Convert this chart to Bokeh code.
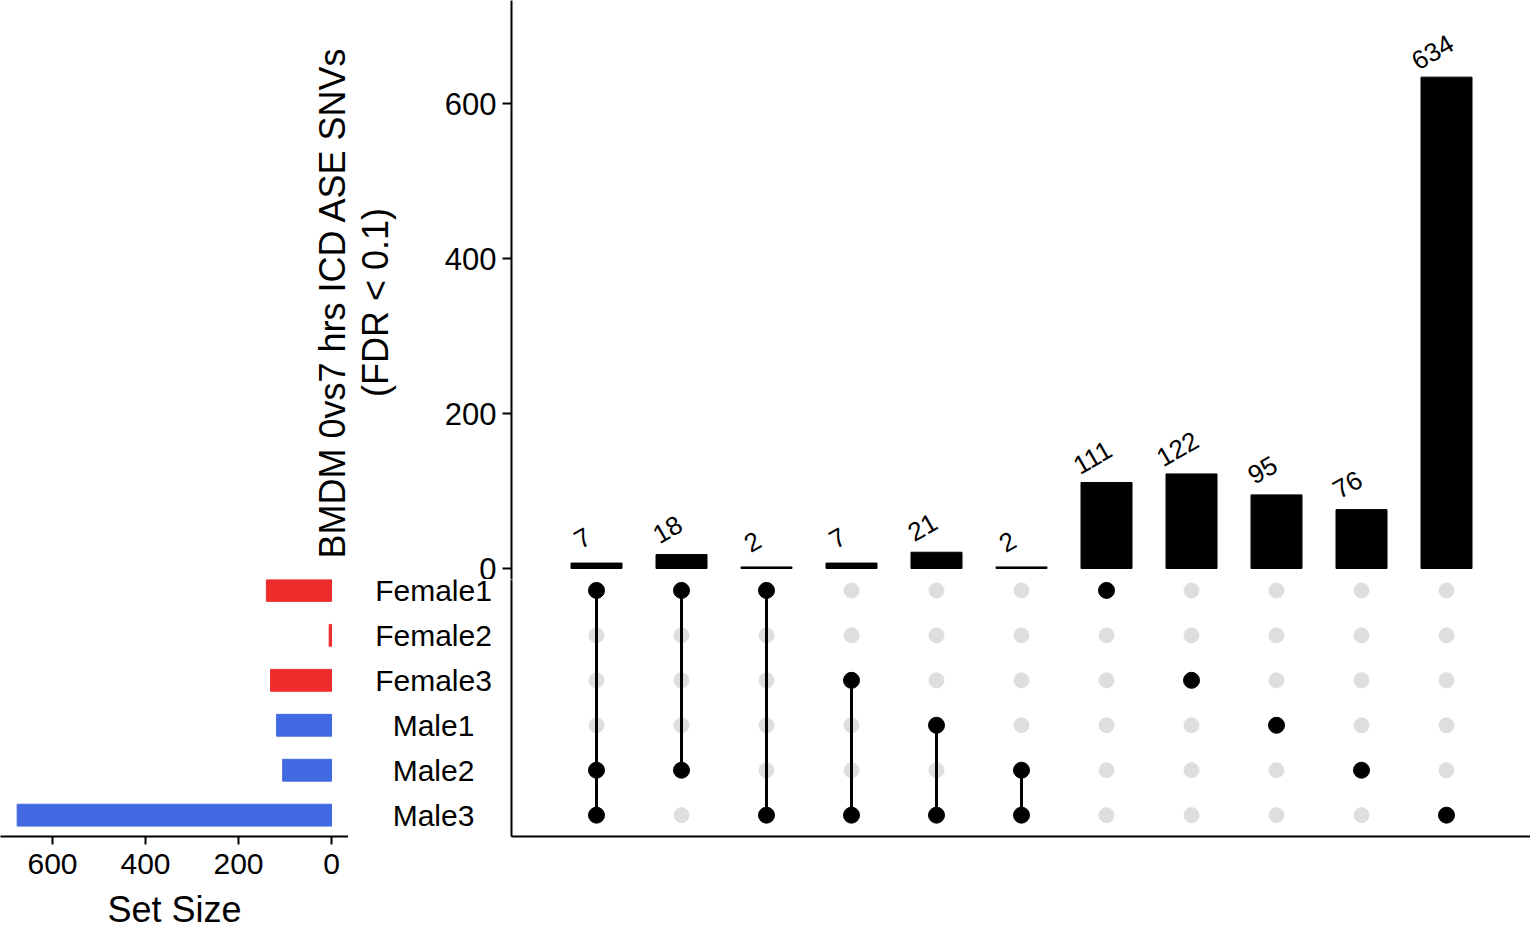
import math
from bokeh.plotting import figure
from bokeh.models import Range1d, FixedTicker, Label
from bokeh.layouts import row, column
from bokeh.embed import file_html
from bokeh.resources import INLINE
from bokeh.core.properties import value

# ---------------- data ----------------
set_names = ["Female1", "Female2", "Female3", "Male1", "Male2", "Male3"]
set_sizes = [140, 5, 131, 118, 105, 676]
set_colors = ["#EE2C2C", "#EE2C2C", "#EE2C2C", "#4169E1", "#4169E1", "#4169E1"]

intersection_members = [
    ["Female1", "Male2", "Male3"],
    ["Female1", "Male2"],
    ["Female1", "Male3"],
    ["Female3", "Male3"],
    ["Male1", "Male3"],
    ["Male2", "Male3"],
    ["Female1"],
    ["Female3"],
    ["Male1"],
    ["Male2"],
    ["Male3"],
]
intersection_counts = [7, 18, 2, 7, 21, 2, 111, 122, 95, 76, 634]

count_ticks = [0, 200, 400, 600]
size_ticks = [0, 200, 400, 600]
count_title_lines = ["BMDM 0vs7 hrs ICD ASE SNVs", "(FDR < 0.1)"]
size_title = "Set Size"

# ---------------- layout constants (px) ----------------
FONT = "Liberation Sans"
PAGE_W = 1530
AXIS_X = 511            # x of the shared vertical axis
TOP_H = 579             # height of the bar-chart row
ZERO_Y = 568            # y of count 0
Y_PX = 0.775            # px per count unit
BOT_FRAME_H = 259       # height of the matrix frame
BOT_BORDER = 94         # room for the set-size axis
ROW0_Y = 590            # y of first set row
ROW_GAP = 45.3          # px between set rows
COL_PX = 85             # px between intersection columns
SIZE_ZERO_X = 331       # x of set size 0
SIZE_PX = 0.465         # px per set-size unit
TL_W = 430              # width of the title panel
SZ_W = 348              # width of the set-size panel
LB_W = 152              # width of the set-name panel
LABEL_X = 433           # centre x of set names

# ---------------- shared ranges ----------------
count_range = Range1d(-(TOP_H - ZERO_Y) / Y_PX, ZERO_Y / Y_PX)
col_range = Range1d(0, (PAGE_W - AXIS_X) / COL_PX)
row_top = (ROW0_Y - TOP_H) / ROW_GAP
row_range = Range1d(row_top - BOT_FRAME_H / ROW_GAP, row_top)
row_y = [-float(i) for i in range(len(set_names))]
row_of = {n: row_y[i] for i, n in enumerate(set_names)}
BOT_H = BOT_FRAME_H + BOT_BORDER


def clean(p):
    p.grid.visible = False
    p.outline_line_color = None
    p.background_fill_color = "white"
    p.border_fill_color = "white"


def borders(left=0, right=0, top=0, bottom=0):
    return dict(min_border_left=left, min_border_right=right,
                min_border_top=top, min_border_bottom=bottom)


# ---------------- top-left: axis title ----------------
top_left = figure(width=TL_W, height=TOP_H, output_backend="svg", toolbar_location=None,
                  x_range=Range1d(0, TL_W), y_range=count_range,
                  x_axis_location=None, y_axis_location=None, **borders())
clean(top_left)
title_y = (ZERO_Y - 302) / Y_PX
for tx, line in zip([332, 375], count_title_lines):
    top_left.add_layout(Label(x=tx, y=title_y, text=line, angle=math.pi / 2,
                              text_align="center", text_baseline="middle",
                              text_font=FONT, text_font_size="36px", text_color="black"))

# ---------------- top-right: intersection sizes ----------------
top_right = figure(width=PAGE_W - TL_W, height=TOP_H, output_backend="svg", toolbar_location=None,
                   x_range=col_range, y_range=count_range, x_axis_location=None,
                   **borders(left=AXIS_X - TL_W))
clean(top_right)
cols = list(range(1, len(intersection_counts) + 1))
top_right.vbar(x=cols, top=intersection_counts, bottom=0, width=0.6,
               fill_color="black", line_color="black")
top_right.text(x=[c - 14 / COL_PX for c in cols],
               y=[v + 25 / Y_PX for v in intersection_counts],
               text=[str(v) for v in intersection_counts],
               angle=math.pi / 6, text_align="center", text_baseline="middle",
               text_font=value(FONT), text_font_size=value("26px"), text_color="black")
ya = top_right.yaxis[0]
ya.ticker = FixedTicker(ticks=count_ticks)
ya.minor_tick_line_color = None
ya.major_tick_in = 0
ya.major_tick_out = 9
ya.major_tick_line_width = 2
ya.axis_line_width = 2
ya.major_label_text_font = FONT
ya.major_label_text_font_size = "31px"
ya.major_label_text_color = "black"
ya.major_label_standoff = 6

# ---------------- bottom-left: set sizes ----------------
size_fig = figure(width=SZ_W, height=BOT_H, output_backend="svg", toolbar_location=None,
                  x_range=Range1d(SIZE_ZERO_X / SIZE_PX, -(SZ_W - SIZE_ZERO_X) / SIZE_PX),
                  y_range=row_range, y_axis_location=None, **borders(bottom=BOT_BORDER))
clean(size_fig)
size_fig.hbar(y=row_y, left=0, right=set_sizes, height=22 / ROW_GAP,
              fill_color=set_colors, line_color=set_colors)
xa = size_fig.xaxis[0]
xa.ticker = FixedTicker(ticks=size_ticks)
xa.minor_tick_line_color = None
xa.major_tick_in = 0
xa.major_tick_out = 8
xa.major_tick_line_width = 2
xa.axis_line_width = 2
xa.major_label_text_font = FONT
xa.major_label_text_font_size = "30px"
xa.major_label_text_color = "black"
xa.major_label_standoff = 9
xa.axis_label = size_title
xa.axis_label_text_font = FONT
xa.axis_label_text_font_size = "36px"
xa.axis_label_text_font_style = "normal"
xa.axis_label_text_color = "black"
xa.axis_label_standoff = 12

# ---------------- bottom-middle: set names ----------------
name_fig = figure(width=LB_W, height=BOT_H, output_backend="svg", toolbar_location=None,
                  x_range=Range1d(SZ_W, SZ_W + LB_W), y_range=row_range,
                  x_axis_location=None, y_axis_location=None, **borders(bottom=BOT_BORDER))
clean(name_fig)
name_fig.text(x=[LABEL_X] * len(set_names), y=row_y, text=set_names,
              text_align="center", text_baseline="middle",
              text_font=value(FONT), text_font_size=value("30px"), text_color="black")

# ---------------- bottom-right: matrix ----------------
mat = figure(width=PAGE_W - SZ_W - LB_W, height=BOT_H, output_backend="svg",
             toolbar_location=None, x_range=col_range, y_range=row_range,
             **borders(left=AXIS_X - SZ_W - LB_W, bottom=BOT_BORDER))
clean(mat)
gx, gy = [], []
for c in cols:
    for y in row_y:
        gx.append(c)
        gy.append(y)
mat.scatter(x=gx, y=gy, size=15, fill_color="#DEDEDE", line_color="#DEDEDE")
sx, sy0, sy1, mx, my = [], [], [], [], []
for c, members in zip(cols, intersection_members):
    ys = [row_of[m] for m in members]
    mx += [c] * len(ys)
    my += ys
    if len(ys) > 1:
        sx.append(c)
        sy0.append(min(ys))
        sy1.append(max(ys))
mat.segment(x0=sx, y0=sy0, x1=sx, y1=sy1, line_color="black", line_width=3)
mat.scatter(x=mx, y=my, size=16, fill_color="black", line_color="black")
for ax in (mat.xaxis[0], mat.yaxis[0]):
    ax.ticker = FixedTicker(ticks=[])
    ax.minor_tick_line_color = None
    ax.major_tick_line_color = None
    ax.major_tick_out = 0
    ax.major_label_standoff = 0
    ax.major_label_text_font_size = "0px"
    ax.axis_line_width = 2

layout = column(row(top_left, top_right), row(size_fig, name_fig, mat))
open("out.html", "w").write(file_html(layout, INLINE))
